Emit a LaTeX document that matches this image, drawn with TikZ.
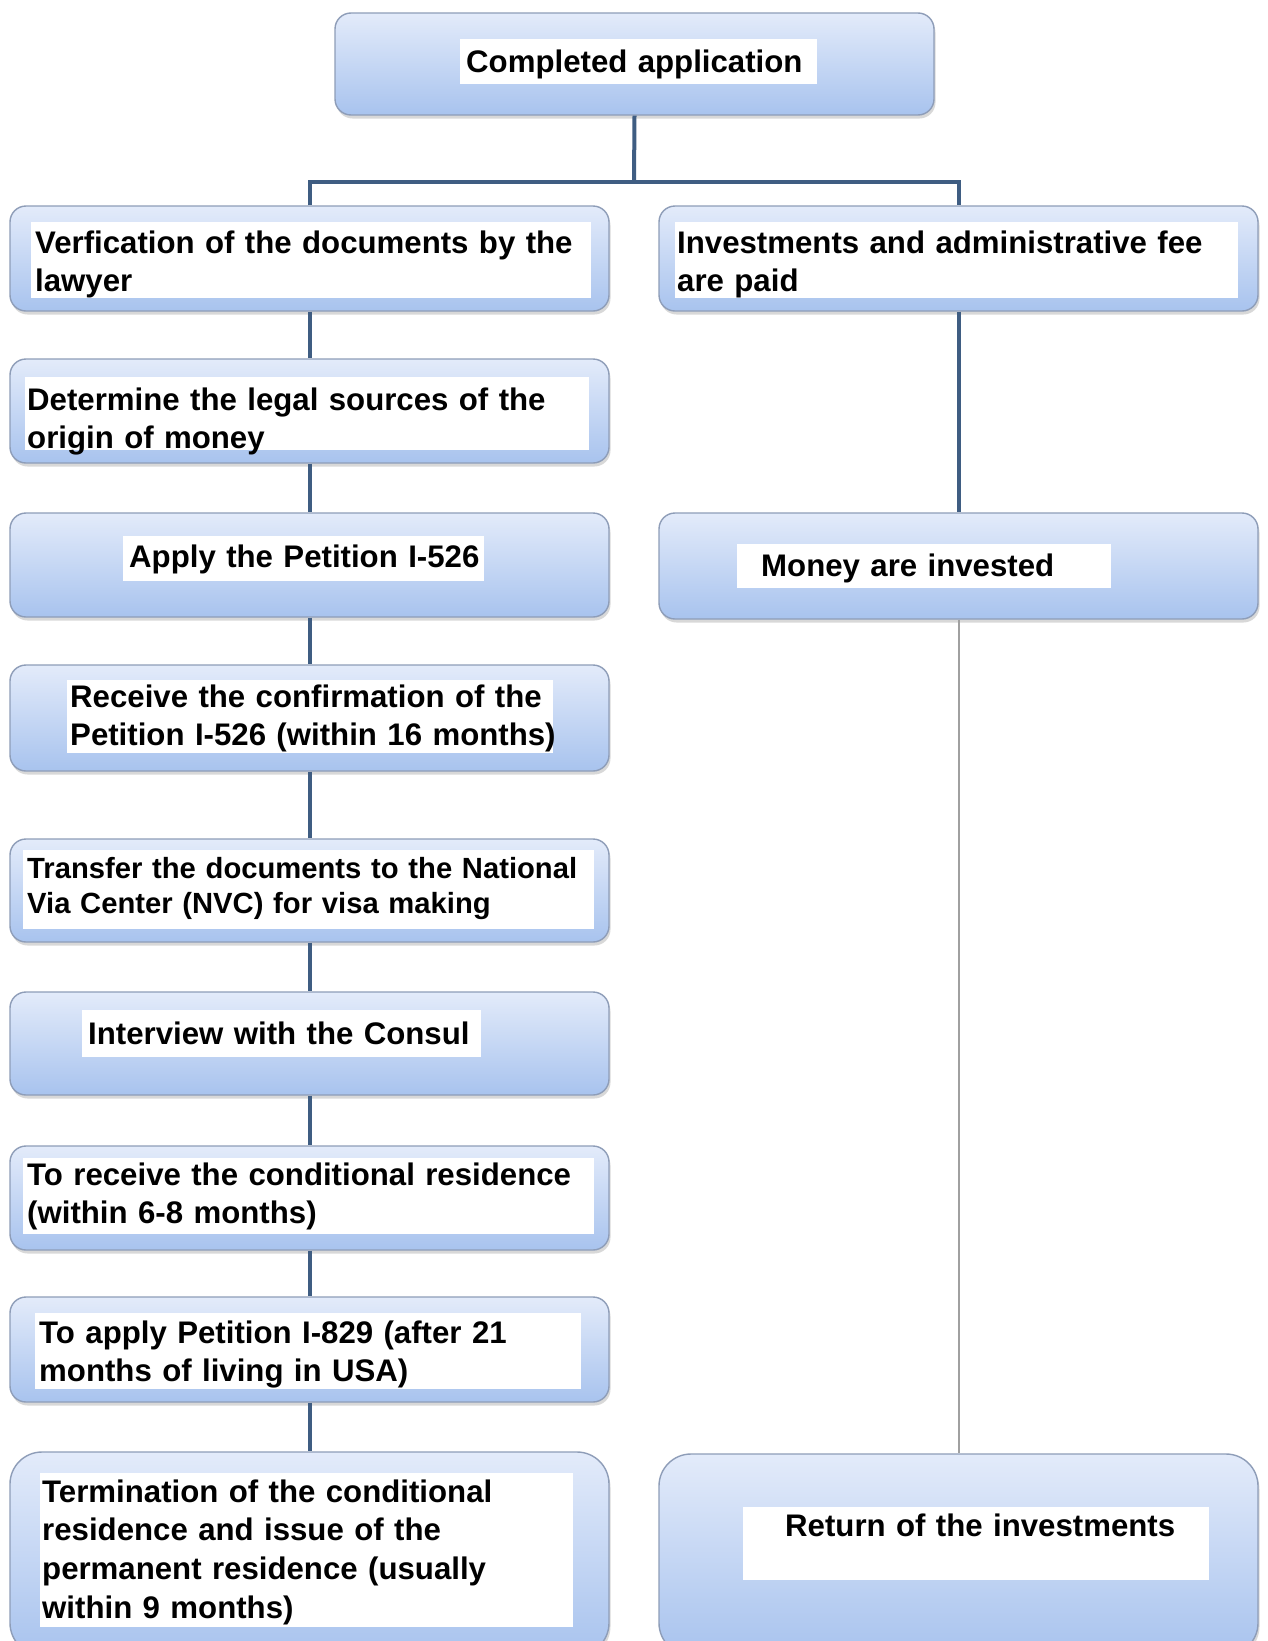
\documentclass[tikz,border=0pt]{standalone}
\usepackage{fontspec}
\setmainfont{Liberation Sans}
\usetikzlibrary{shadows}
\definecolor{boxtop}{HTML}{E3EBFA}
\definecolor{boxbot}{HTML}{A8C3EE}
\definecolor{boxline}{HTML}{8E9DB8}
\definecolor{conn}{HTML}{3F5D82}
\definecolor{connlight}{HTML}{A0A0A0}
\begin{document}
\begin{tikzpicture}[x=1pt,y=-1pt,
  stepbox/.style={rectangle, rounded corners=16pt, draw=boxline, line width=1.4pt,
    top color=boxtop, bottom color=boxbot,
    drop shadow={opacity=0.3, shadow xshift=1.5pt, shadow yshift=-3.5pt},
    minimum width=599pt, inner sep=0pt},
  bigbox/.style={stepbox, rounded corners=32pt},
  txt/.style={anchor=base west, inner sep=0pt, text width=640pt, align=left,
    font=\bfseries\fontsize{31.2}{38}\selectfont},
  link/.style={draw=conn, line width=4pt},
  thinlink/.style={draw=connlight, line width=2pt}
]
\useasboundingbox (0,0) rectangle (1267,1641);
\clip (0,0) rectangle (1267,1641);
\fill[white] (0,0) rectangle (1267,1641);

% boxes
\node[stepbox, minimum height=102pt] (top) at (634.5,64) {};
\node[stepbox, minimum height=105pt] (L1) at (309.5,258.5) {};
\node[stepbox, minimum height=104pt] (L2) at (309.5,411) {};
\node[stepbox, minimum height=104pt] (L3) at (309.5,565) {};
\node[stepbox, minimum height=106pt] (L4) at (309.5,718) {};
\node[stepbox, minimum height=103pt] (L5) at (309.5,890.5) {};
\node[stepbox, minimum height=103pt] (L6) at (309.5,1043.5) {};
\node[stepbox, minimum height=104pt] (L7) at (309.5,1198) {};
\node[stepbox, minimum height=105pt] (L8) at (309.5,1349.5) {};
\node[bigbox, minimum height=203pt] (L9) at (309.5,1553.5) {};
\node[stepbox, minimum height=105pt] (R1) at (958.5,258.5) {};
\node[stepbox, minimum height=106pt] (R2) at (958.5,566) {};
\node[bigbox, minimum height=201pt] (R3) at (958.5,1554.5) {};

% connectors
\coordinate (bar) at (634,182);
\draw[link] (top.south) -- (bar);
\draw[link] (L1.north) |- (bar) -| (R1.north);
\draw[link] (L1.south) -- (L2.north);
\draw[link] (L2.south) -- (L3.north);
\draw[link] (L3.south) -- (L4.north);
\draw[link] (L4.south) -- (L5.north);
\draw[link] (L5.south) -- (L6.north);
\draw[link] (L6.south) -- (L7.north);
\draw[link] (L7.south) -- (L8.north);
\draw[link] (L8.south) -- (L9.north);
\draw[link] (R1.south) -- (R2.north);
\draw[thinlink] (R2.south) -- (R3.north);

% white text backgrounds
\fill[white] (460,39) rectangle (817,84);
\fill[white] (31,222) rectangle (591,298);
\fill[white] (25,377) rectangle (589,450);
\fill[white] (123,536) rectangle (484,581);
\fill[white] (67,680) rectangle (553,753);
\fill[white] (23,850) rectangle (594,929);
\fill[white] (82,1010) rectangle (481,1057);
\fill[white] (23,1158) rectangle (594,1234);
\fill[white] (35,1313) rectangle (581,1389);
\fill[white] (40,1473) rectangle (573,1627);
\fill[white] (675,222) rectangle (1238,298);
\fill[white] (737,544) rectangle (1111,588);
\fill[white] (743,1507) rectangle (1209,1580);

% texts
\node[txt] (tA) at (466,72) {Completed application};
\node[txt] (t1) at (35,253) {Verfication of the documents by the\\lawyer};
\node[txt] (t2) at (27,410) {Determine the legal sources of the\\origin of money};
\node[txt] (t3) at (129,567) {Apply the Petition I-526};
\node[txt] (t4) at (70,707) {Receive the confirmation of the\\Petition I-526 (within 16 months)};
\node[txt, font=\bfseries\fontsize{29.2}{35.6}\selectfont] (t5) at (27,878) {Transfer the documents to the National\\Via Center (NVC) for visa making};
\node[txt] (t6) at (88,1044) {Interview with the Consul};
\node[txt] (t7) at (27,1185) {To receive the conditional residence\\(within 6-8 months)};
\node[txt] (t8) at (39,1343) {To apply Petition I-829 (after 21\\months of living in USA)};
\node[txt, font=\bfseries\fontsize{31.2}{38.7}\selectfont] (t9) at (42,1502) {Termination of the conditional\\residence and issue of the\\permanent residence (usually\\within 9 months)};
\node[txt] (t11) at (677,253) {Investments and administrative fee\\are paid};
\node[txt] (t12) at (761,576) {Money are invested};
\node[txt] (t13) at (785,1536) {Return of the investments};
\end{tikzpicture}
\end{document}
